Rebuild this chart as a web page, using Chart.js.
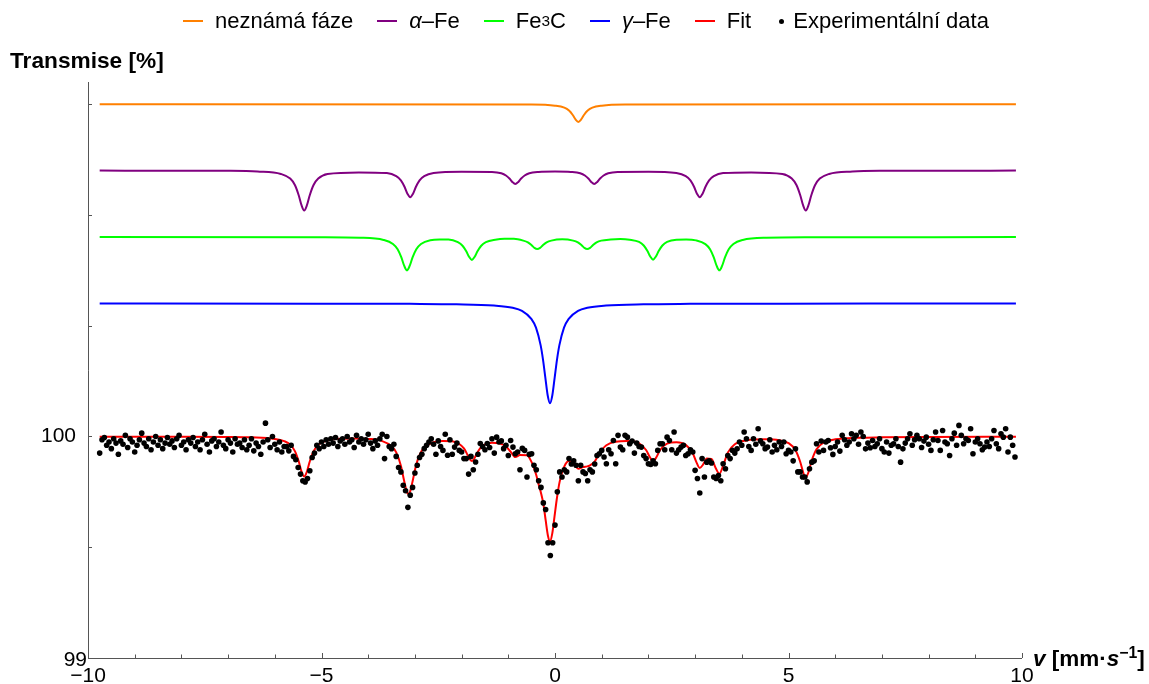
<!DOCTYPE html>
<html>
<head>
<meta charset="utf-8">
<script src="https://cdn.jsdelivr.net/npm/chart.js@4"></script>
<style>
  body { margin: 0; background: #fff; }
  #wrap { position: relative; width: 1149px; height: 684px; font-family: "Liberation Sans", Arial, sans-serif; color: #000; }
  #chart { position: absolute; left: 0; top: 0; }
  .legend { position: absolute; top: 8px; left: 0; width: 1172px; display: flex; justify-content: center; align-items: center; font-size: 22px; white-space: nowrap; }
  .legend .item { display: flex; align-items: center; margin: 0 12px; }
  .legend .dash { display: inline-block; width: 20px; height: 2px; margin-right: 12px; }
  .legend .dot { display: inline-block; width: 5px; height: 5px; border-radius: 50%; background: #000; margin: 0 9px 0 4px; }
  .ytitle { position: absolute; left: 10px; top: 47px; font-size: 22.7px; font-weight: bold; }
  .xtitle { position: absolute; left: 1033px; top: 644px; font-size: 22.5px; font-weight: bold; }
  sub { font-size: 70%; vertical-align: -4px; }
  sup { font-size: 70%; vertical-align: 8px; }
</style>
</head>
<body>
<div id="wrap">
  <canvas id="chart" width="1149" height="684"></canvas>
  <div class="legend">
    <span class="item"><span class="dash" style="background:#ff8000"></span>neznámá fáze</span>
    <span class="item"><span class="dash" style="background:#800080"></span><i>α</i>–Fe</span>
    <span class="item"><span class="dash" style="background:#00ff00"></span>Fe<sub>3</sub>C</span>
    <span class="item"><span class="dash" style="background:#0000ff"></span><i>γ</i>–Fe</span>
    <span class="item"><span class="dash" style="background:#ff0000"></span>Fit</span>
    <span class="item"><span class="dot"></span>Experimentální data</span>
  </div>
  <div class="ytitle">Transmise [%]</div>
  <div class="xtitle"><i>v</i> [mm·<i>s</i><sup>−1</sup>]</div>
</div>
<script>
// measured spectrum: channel velocities start at vStart and go up by vStep
const vStart = -9.75;
const vStep = 0.05;
const transmission = [
  99.925, 99.985, 99.995, 99.96, 99.975, 99.945, 99.99, 99.97, 99.92, 99.98, 99.965, 100.005, 99.95, 99.99, 99.975, 99.93, 99.96, 99.985, 100.015, 99.97,
  99.955, 99.99, 99.94, 99.975, 100.0, 99.96, 99.985, 99.945, 99.97, 99.995, 99.965, 99.98, 99.95, 99.99, 100.005, 99.96, 99.975, 99.94, 99.985, 99.97,
  99.995, 99.955, 99.975, 99.94, 99.985, 100.01, 99.965, 99.93, 99.98, 99.99, 99.955, 99.975, 100.02, 99.96, 99.945, 99.985, 99.97, 99.93, 99.99, 99.965,
  99.97, 99.95, 99.985, 99.94, 99.96, 99.99, 99.935, 99.97, 99.955, 99.92, 99.975, 100.06, 99.985, 99.95, 100.0, 99.965, 99.94, 99.975, 99.93, 99.955,
  99.955, 99.935, 99.96, 99.91, 99.895, 99.86, 99.83, 99.80, 99.795, 99.81, 99.845, 99.905, 99.925, 99.96, 99.945, 99.975, 99.955, 99.985, 99.965, 99.99,
  99.97, 99.995, 99.955, 99.98, 99.99, 99.965, 100.0, 99.975, 99.985, 99.95, 100.005, 99.975, 99.99, 99.965, 99.985, 100.01, 99.97, 99.945, 99.98, 99.96,
  99.99, 100.01, 99.9, 100.0, 99.955, 99.945, 99.965, 99.91, 99.86, 99.84, 99.78, 99.755, 99.68, 99.735, 99.77, 99.835, 99.87, 99.905, 99.92, 99.945,
  99.96, 99.975, 99.99, 99.965, 99.92, 99.98, 99.955, 99.937, 100.01, 99.915, 99.985, 99.92, 99.952, 99.97, 99.937, 99.93, 99.9, 99.9, 99.83, 99.91,
  99.85, 99.885, 99.92, 99.968, 99.955, 99.94, 99.968, 99.95, 99.99, 99.925, 99.997, 99.975, 99.98, 99.945, 99.96, 99.914, 99.982, 99.952, 99.922, 99.93,
  99.85, 99.946, 99.937, 99.817, 99.919, 99.922, 99.87, 99.85, 99.80, 99.77, 99.70, 99.67, 99.52, 99.463, 99.52, 99.60, 99.75, 99.84, 99.817, 99.85,
  99.84, 99.90, 99.876, 99.89, 99.87, 99.80, 99.87, 99.84, 99.833, 99.80, 99.85, 99.84, 99.876, 99.914, 99.922, 99.937, 99.907, 99.877, 99.94, 99.922,
  99.982, 99.877, 100.005, 99.952, 99.94, 100.005, 99.997, 99.967, 99.979, 99.925, 99.97, 99.955, 99.952, 99.914, 99.90, 99.877, 99.874, 99.89, 99.877, 99.937,
  99.967, 99.967, 99.94, 99.997, 99.982, 99.94, 100.02, 99.925, 99.94, 99.952, 99.96, 99.914, 99.922, 99.94, 99.93, 99.847, 99.81, 99.745, 99.90, 99.817,
  99.884, 99.89, 99.88, 99.817, 99.81, 99.824, 99.80, 99.877, 99.854, 99.914, 99.90, 99.937, 99.925, 99.944, 99.975, 99.96, 100.02, 99.99, 99.955, 99.937,
  99.99, 99.965, 100.035, 99.98, 99.967, 99.945, 99.952, 99.985, 99.93, 99.96, 99.94, 99.975, 99.955, 99.975, 99.922, 99.937, 99.93, 99.89, 99.944, 99.84,
  99.84, 99.817, 99.817, 99.795, 99.854, 99.884, 99.89, 99.967, 99.93, 99.979, 99.937, 99.975, 99.982, 99.949, 99.919, 99.955, 99.975, 99.934, 100.005, 99.985,
  99.96, 99.975, 100.012, 99.99, 100.005, 99.965, 100.02, 100.0, 99.944, 99.97, 99.949, 99.982, 99.955, 99.967, 99.99, 99.945, 99.93, 99.975, 99.925, 99.96,
  99.967, 99.99, 99.955, 99.884, 99.944, 99.97, 99.99, 100.012, 99.96, 99.985, 100.005, 99.99, 99.95, 99.979, 99.997, 99.965, 99.937, 99.985, 100.02, 99.982,
  99.937, 100.027, 99.975, 99.967, 99.914, 99.99, 100.015, 99.96, 100.05, 100.005, 99.967, 99.99, 99.982, 100.035, 99.922, 99.975, 99.99, 99.967, 99.94, 99.952,
  99.975, 99.955, 99.99, 100.027, 99.967, 99.945, 100.012, 99.997, 100.035, 99.93, 99.997, 99.96, 99.907
];

// fitted envelope [v, T]
const fitCurve = [
  [-9.75, 99.999], [-8, 99.999], [-7, 99.998], [-6.5, 99.996], [-6, 99.989], [-5.8, 99.979], [-5.67, 99.963],
  [-5.57, 99.934], [-5.49, 99.889], [-5.43, 99.843], [-5.37, 99.819], [-5.31, 99.843], [-5.25, 99.888],
  [-5.17, 99.933], [-5.07, 99.962], [-4.87, 99.982], [-4.6, 99.99], [-4.3, 99.991], [-4, 99.989], [-3.7, 99.979],
  [-3.5, 99.956], [-3.4, 99.928], [-3.3, 99.868], [-3.24, 99.809], [-3.17, 99.748], [-3.13, 99.741], [-3.1, 99.753],
  [-3.04, 99.807], [-2.98, 99.866], [-2.9, 99.917], [-2.8, 99.95], [-2.6, 99.974], [-2.4, 99.98], [-2.2, 99.978],
  [-2.05, 99.966], [-1.95, 99.946], [-1.87, 99.916], [-1.82, 99.896], [-1.78, 99.889], [-1.74, 99.896],
  [-1.69, 99.916], [-1.6, 99.947], [-1.5, 99.964], [-1.35, 99.972], [-1.2, 99.969], [-1.05, 99.955],
  [-0.95, 99.931], [-0.85, 99.907], [-0.75, 99.916], [-0.6, 99.915], [-0.5, 99.884], [-0.45, 99.857],
  [-0.4, 99.825], [-0.35, 99.783], [-0.3, 99.745], [-0.25, 99.697], [-0.2, 99.622], [-0.15, 99.551],
  [-0.107, 99.527], [-0.06, 99.56], [-0.01, 99.639], [0.04, 99.72], [0.1, 99.796], [0.2, 99.865], [0.3, 99.889],
  [0.4, 99.878], [0.5, 99.854], [0.6, 99.862], [0.69, 99.865], [0.75, 99.87], [0.84, 99.884], [0.95, 99.924],
  [1.1, 99.96], [1.3, 99.976], [1.55, 99.979], [1.8, 99.969], [1.95, 99.939], [2.03, 99.907], [2.1, 99.887],
  [2.17, 99.906], [2.25, 99.939], [2.4, 99.968], [2.6, 99.974], [2.8, 99.962], [2.95, 99.924], [3.03, 99.883],
  [3.1, 99.858], [3.17, 99.873], [3.25, 99.9], [3.35, 99.898], [3.44, 99.858], [3.52, 99.832], [3.6, 99.868],
  [3.7, 99.927], [3.85, 99.965], [4.1, 99.982], [4.5, 99.987], [4.8, 99.983], [5, 99.97], [5.15, 99.938],
  [5.25, 99.886], [5.32, 99.834], [5.37, 99.816], [5.42, 99.834], [5.5, 99.893], [5.6, 99.942], [5.75, 99.972],
  [6, 99.987], [6.5, 99.994], [7, 99.996], [8, 99.998], [9.87, 99.999]
];

// sub-spectra, each shifted up for readability
const unknownPhase = [
  [-9.75, 101.5], [-0.5, 101.498], [0, 101.493], [0.2, 101.484], [0.3, 101.471], [0.38, 101.451], [0.44, 101.431],
  [0.5, 101.42], [0.56, 101.431], [0.62, 101.451], [0.7, 101.471], [0.8, 101.484], [1.0, 101.493], [1.5, 101.498],
  [9.87, 101.5]
];

const alphaFe = [
  [-9.75, 101.2], [-7, 101.199], [-6.37, 101.196], [-5.87, 101.185], [-5.67, 101.164], [-5.57, 101.135],
  [-5.49, 101.09], [-5.43, 101.045], [-5.37, 101.02], [-5.31, 101.045], [-5.25, 101.09], [-5.17, 101.135],
  [-5.07, 101.164], [-4.87, 101.185], [-4.2, 101.192], [-3.6, 101.189], [-3.4, 101.175], [-3.3, 101.156],
  [-3.22, 101.126], [-3.16, 101.096], [-3.1, 101.08], [-3.04, 101.096], [-2.98, 101.126], [-2.9, 101.156],
  [-2.8, 101.175], [-2.6, 101.189], [-2.0, 101.195], [-1.35, 101.194], [-1.15, 101.188], [-1.05, 101.178],
  [-0.97, 101.163], [-0.91, 101.148], [-0.85, 101.14], [-0.79, 101.148], [-0.73, 101.163], [-0.65, 101.178],
  [-0.55, 101.188], [-0.35, 101.194], [0, 101.196], [0.34, 101.194], [0.54, 101.188], [0.64, 101.178],
  [0.72, 101.163], [0.78, 101.148], [0.84, 101.14], [0.9, 101.148], [0.96, 101.163], [1.04, 101.178],
  [1.14, 101.188], [1.34, 101.194], [2.0, 101.195], [2.6, 101.189], [2.8, 101.175], [2.9, 101.156],
  [2.98, 101.126], [3.04, 101.096], [3.1, 101.08], [3.16, 101.096], [3.22, 101.126], [3.3, 101.156],
  [3.4, 101.175], [3.6, 101.189], [4.2, 101.192], [4.87, 101.185], [5.07, 101.164], [5.17, 101.135],
  [5.25, 101.09], [5.31, 101.045], [5.37, 101.02], [5.43, 101.045], [5.49, 101.09], [5.57, 101.135],
  [5.67, 101.164], [5.87, 101.185], [6.37, 101.196], [7, 101.199], [9.87, 101.2]
];

const cementite = [
  [-9.75, 100.9], [-5, 100.899], [-4.17, 100.897], [-3.67, 100.887], [-3.47, 100.869], [-3.37, 100.845],
  [-3.29, 100.808], [-3.23, 100.771], [-3.17, 100.75], [-3.11, 100.771], [-3.05, 100.808], [-2.97, 100.845],
  [-2.87, 100.869], [-2.67, 100.886], [-2.47, 100.889], [-2.28, 100.889], [-2.08, 100.877], [-1.98, 100.861],
  [-1.9, 100.836], [-1.84, 100.811], [-1.78, 100.797], [-1.72, 100.811], [-1.66, 100.836], [-1.58, 100.861],
  [-1.48, 100.877], [-1.28, 100.888], [-1.08, 100.892], [-0.88, 100.892], [-0.68, 100.884], [-0.58, 100.876],
  [-0.5, 100.863], [-0.44, 100.851], [-0.38, 100.846], [-0.32, 100.851], [-0.26, 100.863], [-0.18, 100.876],
  [-0.08, 100.884], [0.155, 100.89], [0.39, 100.884], [0.49, 100.876], [0.57, 100.863], [0.63, 100.851],
  [0.69, 100.846], [0.75, 100.851], [0.81, 100.863], [0.89, 100.876], [0.99, 100.884], [1.19, 100.889],
  [1.4, 100.891], [1.6, 100.888], [1.8, 100.878], [1.9, 100.862], [1.98, 100.837], [2.04, 100.812],
  [2.1, 100.798], [2.16, 100.812], [2.22, 100.837], [2.3, 100.862], [2.4, 100.878], [2.6, 100.888],
  [2.81, 100.889], [3.02, 100.885], [3.22, 100.868], [3.32, 100.845], [3.4, 100.808], [3.46, 100.771],
  [3.52, 100.75], [3.58, 100.771], [3.64, 100.808], [3.72, 100.845], [3.82, 100.869], [4.02, 100.887],
  [4.52, 100.897], [5.5, 100.899], [9.87, 100.9]
];

const gammaFe = [
  [-9.75, 100.6], [-5.107, 100.5995], [-3.107, 100.5986], [-2.107, 100.5968], [-1.307, 100.591], [-0.907, 100.581],
  [-0.707, 100.567], [-0.507, 100.531], [-0.407, 100.491], [-0.307, 100.411], [-0.257, 100.347], [-0.207, 100.266],
  [-0.157, 100.186], [-0.107, 100.15], [-0.057, 100.186], [-0.007, 100.266], [0.043, 100.347], [0.093, 100.411],
  [0.193, 100.491], [0.293, 100.531], [0.493, 100.567], [0.693, 100.581], [1.093, 100.591], [1.893, 100.5968],
  [2.893, 100.5986], [4.893, 100.5995], [9.87, 100.6]
];

const xMajor = [-10, -5, 0, 5, 10];
const xMinor = [-9, -8, -7, -6, -4, -3, -2, -1, 1, 2, 3, 4, 6, 7, 8, 9];
const yTicks = [99, 99.5, 100, 100.5, 101, 101.5];
const yLabels = [99, 100];

const toPoints = pairs => pairs.map(([x, y]) => ({ x, y }));
const measured = transmission.map((y, i) => ({ x: +(vStart + i * vStep).toFixed(3), y }));

function curve(pairs, color, order) {
  return {
    data: toPoints(pairs),
    borderColor: color,
    borderWidth: 2,
    pointRadius: 0,
    fill: false,
    cubicInterpolationMode: 'monotone',
    order
  };
}

const tickFont = '21px "Liberation Sans", Arial, sans-serif';

// axes in the Mathematica style: ticks point into the plot
const axesPlugin = {
  id: 'axes',
  beforeDatasetsDraw(chart) {
    const { ctx, chartArea: a, scales: { x, y } } = chart;
    ctx.save();
    ctx.strokeStyle = '#555';
    ctx.lineWidth = 1;
    ctx.beginPath();
    ctx.moveTo(a.left + 0.5, a.top);
    ctx.lineTo(a.left + 0.5, a.bottom + 0.5);
    ctx.lineTo(a.right, a.bottom + 0.5);
    xMajor.forEach(v => {
      const px = Math.round(x.getPixelForValue(v)) + 0.5;
      ctx.moveTo(px, a.bottom);
      ctx.lineTo(px, a.bottom - 5);
    });
    xMinor.forEach(v => {
      const px = Math.round(x.getPixelForValue(v)) + 0.5;
      ctx.moveTo(px, a.bottom);
      ctx.lineTo(px, a.bottom - 3.5);
    });
    yTicks.forEach(v => {
      const py = Math.round(y.getPixelForValue(v)) + 0.5;
      ctx.moveTo(a.left, py);
      ctx.lineTo(a.left + 4, py);
    });
    ctx.stroke();

    ctx.fillStyle = '#000';
    ctx.font = tickFont;
    ctx.textAlign = 'center';
    ctx.textBaseline = 'top';
    xMajor.forEach(v => {
      const label = v < 0 ? '\u2212' + Math.abs(v) : String(v);
      ctx.fillText(label, x.getPixelForValue(v), a.bottom + 8);
    });
    ctx.textAlign = 'right';
    ctx.textBaseline = 'middle';
    yLabels.forEach(v => {
      const py = y.getPixelForValue(v);
      ctx.fillText(String(v), v === 99 ? a.left - 1 : a.left - 12, v === 99 ? py + 2 : py);
    });
    ctx.restore();
  }
};

new Chart(document.getElementById('chart'), {
  type: 'line',
  data: {
    datasets: [
      {
        data: measured,
        showLine: false,
        pointRadius: 2.8,
        pointBackgroundColor: '#000',
        pointBorderWidth: 0,
        order: 0
      },
      curve(fitCurve, '#ff0000', 1),
      curve(gammaFe, '#0000ff', 2),
      curve(cementite, '#00ff00', 3),
      curve(alphaFe, '#800080', 4),
      curve(unknownPhase, '#ff8000', 5)
    ]
  },
  options: {
    responsive: false,
    animation: false,
    devicePixelRatio: 1,
    layout: { padding: { left: 88, right: 127, top: 82, bottom: 26 } },
    scales: {
      x: { type: 'linear', min: -10, max: 10, display: false },
      y: { type: 'linear', min: 99, max: 101.6, display: false }
    },
    plugins: { legend: { display: false }, tooltip: { enabled: false } }
  },
  plugins: [axesPlugin]
});
</script>
</body>
</html>
